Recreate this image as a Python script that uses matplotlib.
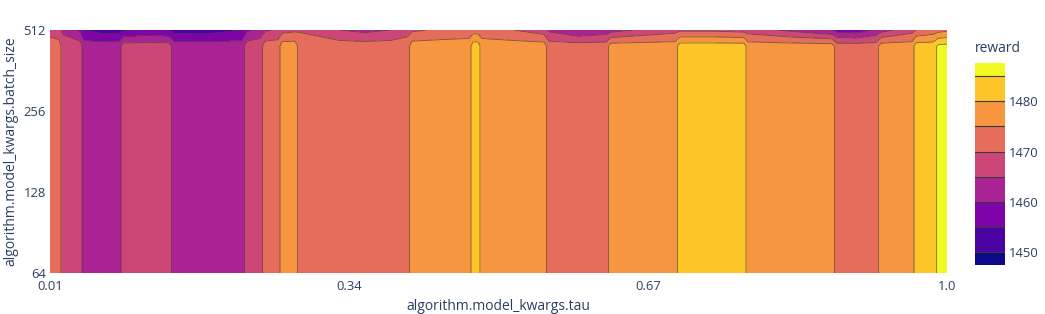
import numpy as np
import matplotlib
matplotlib.use("Agg")
from matplotlib import pyplot as plt

plt.rcParams['font.family'] = ['Open Sans', 'DejaVu Sans']

# tau positions of the interpolation grid columns
tau_knots = [0.010, 0.020, 0.0243, 0.0431, 0.0475, 0.0663, 0.0862, 0.0906, 0.116, 0.1413,
             0.1469, 0.1844, 0.2219, 0.2274, 0.2418, 0.2473, 0.2616, 0.2661, 0.2804,
             0.2859, 0.3301, 0.3577, 0.3853, 0.4040, 0.4095, 0.4404, 0.4724, 0.4769, 0.4824,
             0.4868, 0.5221, 0.5552, 0.5607, 0.5928, 0.6237, 0.6292, 0.6656, 0.6998,
             0.7053, 0.7407, 0.7760, 0.7804, 0.8267, 0.8731, 0.8786, 0.8996, 0.9217,
             0.9272, 0.9614, 0.9658, 0.9846, 0.9901, 1.000]

# reward over most of the batch_size range
reward_low = [1472.5, 1472.5, 1467.5, 1467.5, 1462.5, 1462.5, 1462.5, 1467.5, 1467.5, 1467.5,
              1462.5, 1462.5, 1462.5, 1467.5, 1467.5, 1472.5, 1472.5, 1477.5, 1477.5,
              1472.5, 1472.5, 1472.5, 1472.5, 1472.5, 1477.5, 1477.5, 1477.5, 1482.5, 1482.5,
              1477.5, 1477.5, 1477.5, 1472.5, 1472.5, 1472.5, 1477.5, 1477.5, 1477.5,
              1482.5, 1482.5, 1482.5, 1477.5, 1477.5, 1477.5, 1472.5, 1472.5, 1472.5,
              1477.5, 1477.5, 1482.5, 1482.5, 1486.0, 1486.5]

# reward at batch_size 512
reward_high = [1468, 1466, 1464, 1459, 1455, 1453, 1453, 1454, 1456, 1455,
               1453, 1452.5, 1455, 1459, 1462, 1464, 1466, 1468, 1469,
               1469.5, 1465, 1463.5, 1465, 1468, 1469, 1471, 1472, 1472.5, 1472.5,
               1472, 1470, 1467, 1464, 1460, 1462, 1463, 1466, 1468,
               1469, 1469, 1468, 1467.5, 1464, 1460, 1458, 1457, 1461,
               1463, 1468, 1470, 1472, 1473, 1474]

batch_rows = [64, 446, 512]
levels = [1447.5, 1450, 1455, 1460, 1465, 1470, 1475, 1480, 1485, 1487.6]

Z = np.array([reward_low, reward_low, reward_high])
colors = plt.cm.plasma(np.linspace(0, 1, len(levels) - 1))
text_color = '#2a3f5f'

fig = plt.figure(figsize=(10.45, 3.14), dpi=100)
ax = fig.add_axes([50 / 1045, 41 / 314, 897 / 1045, 243 / 314])

cf = ax.contourf(tau_knots, batch_rows, Z, levels=levels, colors=colors)
ax.contour(tau_knots, batch_rows, Z, levels=levels[1:-1], colors='#3a3a3a',
           linewidths=0.6, alpha=0.7)

ax.set_yscale('log', base=2)
ax.set_xlim(0.01, 1.0)
ax.set_ylim(64, 512)
ax.set_xticks([0.01, 0.34, 0.67, 1.0])
ax.set_xticklabels(['0.01', '0.34', '0.67', '1.0'])
ax.set_yticks([64, 128, 256, 512])
ax.set_yticklabels(['64', '128', '256', '512'])
ax.yaxis.set_minor_locator(matplotlib.ticker.NullLocator())
ax.tick_params(length=0, labelsize=9.4, colors=text_color)
ax.tick_params(axis='x', pad=5)
ax.tick_params(axis='y', pad=3)
for s in ax.spines.values():
    s.set_visible(False)

fig.text(498 / 1045, 1 - 306 / 314, 'algorithm.model_kwargs.tau', ha='center', va='center',
         fontsize=10, color=text_color)
fig.text(11 / 1045, 1 - 151 / 314, 'algorithm.model_kwargs.batch_size', ha='center',
         va='center', rotation=90, fontsize=10, color=text_color)

# colorbar
cax = fig.add_axes([975 / 1045, 49 / 314, 30 / 1045, 202 / 314])
cb = fig.colorbar(cf, cax=cax, spacing='proportional')
cb.outline.set_visible(False)
for lv in levels[1:-1]:
    cax.axhline(lv, color='#3a3a3a', linewidth=0.8)
cb.set_ticks([1450, 1460, 1470, 1480])
cax.tick_params(length=0, labelsize=9.4, colors=text_color, pad=3)
fig.text(975 / 1045, 1 - 49 / 314, 'reward', ha='left', va='center', fontsize=10,
         color=text_color)

fig.savefig('out.png', dpi=100)
